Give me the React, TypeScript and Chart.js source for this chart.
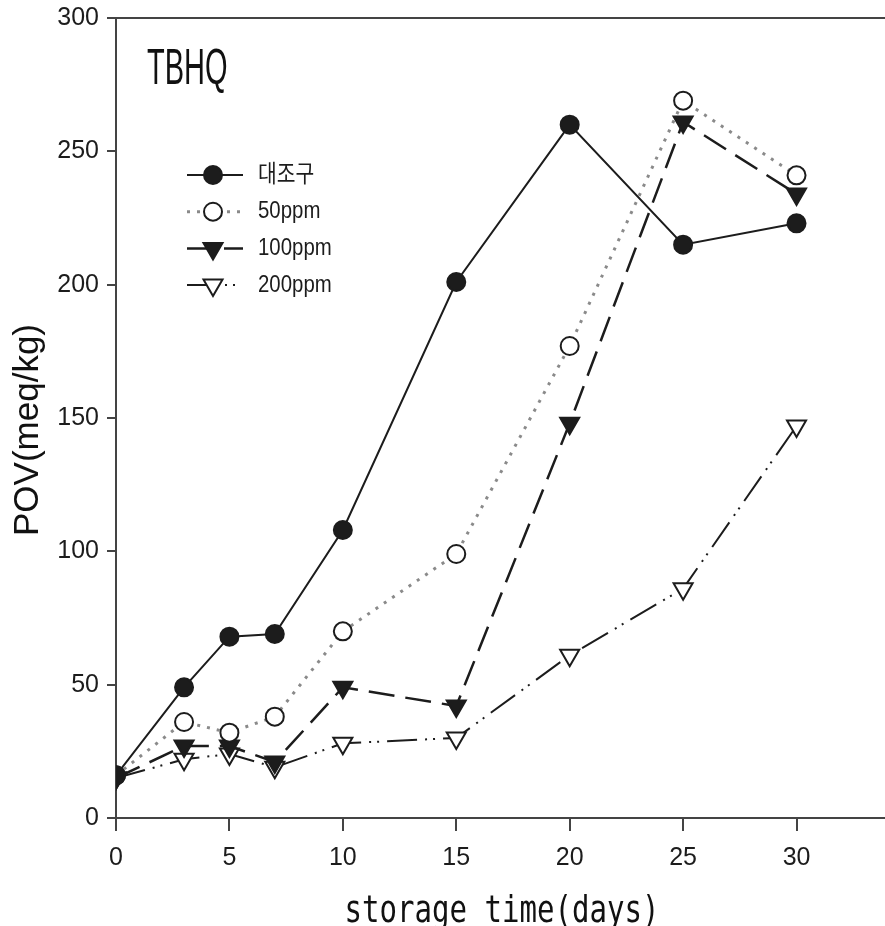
import React, { useEffect, useRef } from 'react';
import { Chart, registerables } from 'chart.js';

Chart.register(...registerables);

const days = [0, 3, 5, 7, 10, 15, 20, 25, 30];
const control = [16, 49, 68, 69, 108, 201, 260, 215, 223];
const ppm50 = [16, 36, 32, 38, 70, 99, 177, 269, 241];
const ppm100 = [15, 27, 27, 21, 49, 42, 148, 261, 234];
const ppm200 = [15, 22, 24, 19, 28, 30, 61, 86, 147];
const seriesLabels = ['대조구', '50ppm', '100ppm', '200ppm'];
const xTicks = [0, 5, 10, 15, 20, 25, 30];
const yTicks = [0, 50, 100, 150, 200, 250, 300];
const panelTitle = 'TBHQ';
const xTitle = 'storage time(days)';
const yTitle = 'POV(meq/kg)';

const INK = '#1c1c1c';
const AXIS = '#444';

function toPoints(vals: number[]) {
  return vals.map((v, i) => ({ x: days[i], y: v }));
}

function drawMarker(ctx: CanvasRenderingContext2D, ds: any, x: number, y: number) {
  const r = ds.pointRadius;
  ctx.save();
  ctx.beginPath();
  if (ds.pointStyle === 'circle') {
    ctx.arc(x, y, r, 0, Math.PI * 2);
  } else {
    const rot = ((ds.pointRotation || 0) * Math.PI) / 180;
    let a = rot;
    ctx.moveTo(x + Math.sin(a) * r, y - Math.cos(a) * r);
    a += (2 * Math.PI) / 3;
    ctx.lineTo(x + Math.sin(a) * r, y - Math.cos(a) * r);
    a += (2 * Math.PI) / 3;
    ctx.lineTo(x + Math.sin(a) * r, y - Math.cos(a) * r);
    ctx.closePath();
  }
  ctx.fillStyle = ds.pointBackgroundColor;
  ctx.fill();
  ctx.setLineDash([]);
  ctx.lineWidth = ds.pointBorderWidth;
  ctx.strokeStyle = ds.pointBorderColor;
  ctx.stroke();
  ctx.restore();
}

const decorPlugin = {
  id: 'decor',
  afterDraw(chart: any) {
    const ctx: CanvasRenderingContext2D = chart.ctx;
    const ca = chart.chartArea;
    ctx.save();
    // top frame line
    ctx.strokeStyle = AXIS;
    ctx.lineWidth = 2;
    ctx.beginPath();
    ctx.moveTo(ca.left - 1, ca.top);
    ctx.lineTo(ca.right, ca.top);
    ctx.stroke();

    // panel title
    ctx.fillStyle = '#111';
    ctx.textBaseline = 'alphabetic';
    ctx.textAlign = 'left';
    ctx.save();
    ctx.translate(ca.left + 31, ca.top + 66);
    ctx.scale(0.58, 1);
    ctx.font = "50px 'Liberation Sans', Arial, sans-serif";
    ctx.fillText(panelTitle, 0, 0);
    ctx.restore();

    // legend
    chart.data.datasets.forEach((ds: any, i: number) => {
      const y = ca.top + 157 + i * 36.7;
      const x0 = ca.left + 71;
      const x1 = ca.left + 127;
      const xm = ca.left + 97;
      ctx.save();
      ctx.strokeStyle = ds.borderColor;
      ctx.lineWidth = ds.borderWidth;
      ctx.setLineDash(ds.borderDash || []);
      ctx.beginPath();
      ctx.moveTo(x0, y);
      ctx.lineTo(x1, y);
      ctx.stroke();
      ctx.restore();
      drawMarker(ctx, ds, xm, y);
      ctx.save();
      ctx.fillStyle = INK;
      ctx.textBaseline = 'middle';
      ctx.translate(ca.left + 142, y);
      ctx.scale(0.85, 1);
      ctx.font = "24px 'Liberation Sans', 'Noto Sans CJK KR', sans-serif";
      ctx.fillText(seriesLabels[i], 0, 0);
      ctx.restore();
    });

    // x axis title
    ctx.save();
    ctx.fillStyle = '#111';
    ctx.textAlign = 'center';
    ctx.textBaseline = 'alphabetic';
    ctx.translate(502, 922);
    ctx.scale(0.765, 1);
    ctx.font = "38px 'DejaVu Sans Mono', monospace";
    ctx.fillText(xTitle, 0, 0);
    ctx.restore();

    // y axis title
    ctx.save();
    ctx.fillStyle = '#111';
    ctx.textAlign = 'center';
    ctx.textBaseline = 'middle';
    ctx.translate(28, 430);
    ctx.rotate(-Math.PI / 2);
    ctx.font = "35px 'Liberation Sans', Arial, sans-serif";
    ctx.fillText(yTitle, 0, 0);
    ctx.restore();

    ctx.restore();
  },
};

export default function App() {
  const ref = useRef<HTMLCanvasElement>(null);

  useEffect(() => {
    document.body.style.margin = '0';
    document.body.style.overflow = 'hidden';
    document.documentElement.style.overflow = 'hidden';
    const canvas = ref.current!;
    const mk = (label: string, vals: number[], opts: Record<string, any>) => ({
      label,
      data: toPoints(vals),
      fill: false,
      tension: 0,
      pointBorderWidth: 2,
      pointBorderColor: INK,
      pointHoverRadius: 9,
      ...opts,
    });
    const datasets = [
      mk(seriesLabels[0], control, {
        borderColor: INK,
        borderWidth: 2,
        borderDash: [],
        pointStyle: 'circle',
        pointRadius: 9,
        pointBackgroundColor: INK,
      }),
      mk(seriesLabels[1], ppm50, {
        borderColor: '#8a8a8a',
        borderWidth: 3,
        borderDash: [3, 7],
        pointStyle: 'circle',
        pointRadius: 9,
        pointBackgroundColor: '#fff',
      }),
      mk(seriesLabels[2], ppm100, {
        borderColor: INK,
        borderWidth: 2.5,
        borderDash: [26, 11],
        pointStyle: 'triangle',
        pointRotation: 180,
        pointRadius: 11,
        pointBackgroundColor: INK,
      }),
      mk(seriesLabels[3], ppm200, {
        borderColor: INK,
        borderWidth: 2,
        borderDash: [30, 8, 2, 6, 2, 8],
        pointStyle: 'triangle',
        pointRotation: 180,
        pointRadius: 11,
        pointBackgroundColor: '#fff',
      }),
    ];

    const tickFont = { family: "'Liberation Sans', Arial, sans-serif", size: 25 };

    const chart = new Chart(canvas, {
      type: 'line',
      data: { datasets },
      options: {
        animation: false,
        responsive: false,
        maintainAspectRatio: false,
        devicePixelRatio: 1,
        layout: { autoPadding: false, padding: { top: 18, left: 0, right: 0, bottom: 0 } },
        plugins: { legend: { display: false }, tooltip: { enabled: false } },
        scales: {
          x: {
            type: 'linear',
            min: 0,
            max: 33.9,
            afterBuildTicks: (s: any) => {
              s.ticks = xTicks.map((v) => ({ value: v }));
            },
            afterFit: (s: any) => {
              s.height = 108;
              s.paddingRight = 0;
              s.paddingLeft = 0;
            },
            ticks: { font: tickFont, color: INK, padding: 12, maxRotation: 0 },
            grid: {
              display: true,
              drawOnChartArea: false,
              drawTicks: true,
              tickLength: 13,
              color: AXIS,
              lineWidth: 2,
            },
            border: { display: true, color: AXIS, width: 2 },
          },
          y: {
            type: 'linear',
            min: 0,
            max: 300,
            afterBuildTicks: (s: any) => {
              s.ticks = yTicks.map((v) => ({ value: v }));
            },
            afterFit: (s: any) => {
              s.width = 116;
              s.paddingTop = 0;
              s.paddingBottom = 0;
            },
            ticks: { font: tickFont, color: INK, padding: 8 },
            grid: {
              display: true,
              drawOnChartArea: false,
              drawTicks: true,
              tickLength: 9,
              color: AXIS,
              lineWidth: 2,
            },
            border: { display: true, color: AXIS, width: 2 },
          },
        },
      },
      plugins: [decorPlugin],
    } as any);
    return () => chart.destroy();
  }, []);

  return (
    <div style={{ position: 'absolute', left: 0, top: 0, width: 885, height: 926, overflow: 'hidden' }}>
      <canvas
        ref={ref}
        width={885}
        height={926}
        style={{ display: 'block', width: '885px', height: '926px' }}
      />
    </div>
  );
}
